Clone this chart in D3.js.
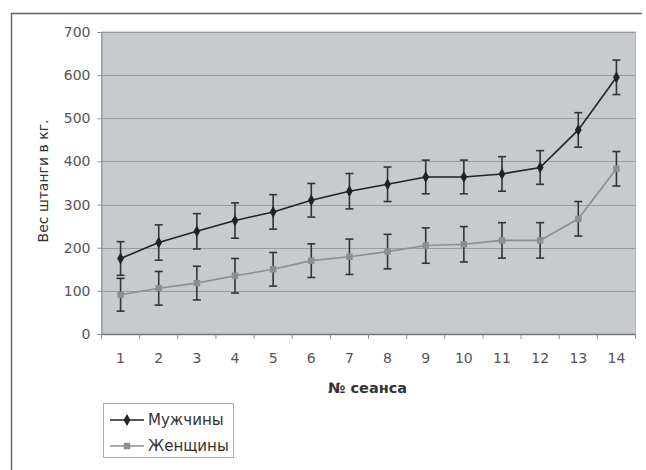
<!DOCTYPE html>
<html><head><meta charset="utf-8">
<script src="https://cdn.jsdelivr.net/npm/d3@7"></script>
<style>body{margin:0;background:#fff;}svg{display:block;font-family:"DejaVu Sans",sans-serif;}</style>
</head><body>
<svg id="c" width="646" height="470"></svg>
<script>
const sessions = ["1","2","3","4","5","6","7","8","9","10","11","12","13","14"];
const menValues = [175, 212, 238, 263, 283, 310, 331, 347, 364, 364, 371, 386, 473, 595];
const menErrors = [39, 41, 41, 41, 40, 39, 41, 40, 39, 39, 40, 39, 40, 40];
const womenValues = [91, 106, 118, 135, 150, 170, 179, 191, 205, 208, 217, 217, 267, 383];
const womenErrors = [38, 39, 39, 40, 39, 39, 41, 40, 41, 41, 41, 41, 40, 40];
const yTicks = [0, 100, 200, 300, 400, 500, 600, 700];
const seriesNames = ["Мужчины", "Женщины"];

const FONT = "DejaVu Sans, sans-serif";
const svg = d3.select("#c");
const m = {left: 101.5, right: 635.5, top: 32, bottom: 334};

// outer frame (left and top edges)
svg.append("path").attr("d", "M11.5,470 L11.5,13.5 L642,13.5")
  .attr("fill", "none").attr("stroke", "#666").attr("stroke-width", 1.5);

const x = d3.scaleBand().domain(sessions).range([m.left, m.right]);
const y = d3.scaleLinear().domain([0, 700]).range([m.bottom, m.top]);

// plot background
svg.append("rect").attr("x", m.left).attr("y", m.top)
  .attr("width", m.right - m.left).attr("height", m.bottom - m.top)
  .attr("fill", "#c8cbcd").attr("stroke", "#b4b7b9");

// gridlines
svg.append("g").selectAll("line").data(yTicks.filter(d => d > 0)).join("line")
  .attr("x1", m.left).attr("x2", m.right)
  .attr("y1", d => Math.round(y(d)) + 0.5).attr("y2", d => Math.round(y(d)) + 0.5)
  .attr("stroke", "#9a9da0").attr("stroke-width", 1);

// y axis
const yAxis = svg.append("g").attr("transform", `translate(${m.left},0)`)
  .call(d3.axisLeft(y).tickValues(yTicks).tickSize(4).tickPadding(7));
yAxis.select(".domain").attr("stroke", "#8a8d90");
yAxis.selectAll(".tick line").attr("stroke", "#8a8d90");
yAxis.selectAll("text").attr("font-size", 14).attr("fill", "#555").attr("font-family", FONT);

// x axis
const xAxis = svg.append("g").attr("transform", `translate(0,${m.bottom})`)
  .call(d3.axisBottom(x).tickSize(0).tickPadding(19));
xAxis.select(".domain").attr("stroke", "#777").attr("stroke-width", 1.5);
xAxis.selectAll("text").attr("font-size", 14).attr("fill", "#555").attr("font-family", FONT);
// boundary ticks
const bounds = sessions.map(s => x(s)).concat([m.right]);
svg.append("g").selectAll("line").data(bounds).join("line")
  .attr("x1", d => d).attr("x2", d => d)
  .attr("y1", m.bottom).attr("y2", m.bottom + 5)
  .attr("stroke", "#8a8d90");

const cx = s => x(s) + x.bandwidth() / 2;

function drawSeries(vals, errs, color, marker) {
  const g = svg.append("g");
  const eb = g.append("g").attr("stroke", "#333").attr("stroke-width", 1.6);
  sessions.forEach((s, i) => {
    const xx = cx(s), hi = y(vals[i] + errs[i]), lo = y(vals[i] - errs[i]);
    eb.append("line").attr("x1", xx).attr("x2", xx).attr("y1", hi).attr("y2", lo);
    eb.append("line").attr("x1", xx - 4).attr("x2", xx + 4).attr("y1", hi).attr("y2", hi);
    eb.append("line").attr("x1", xx - 4).attr("x2", xx + 4).attr("y1", lo).attr("y2", lo);
  });
  const line = d3.line().x((d, i) => cx(sessions[i])).y(d => y(d));
  g.append("path").datum(vals).attr("d", line).attr("fill", "none")
    .attr("stroke", color).attr("stroke-width", 1.6);
  g.selectAll("path.mk").data(vals).join("path").attr("class", "mk")
    .attr("transform", (d, i) => `translate(${cx(sessions[i])},${y(d)})`)
    .attr("d", d3.symbol().type(marker === "diamond" ? d3.symbolDiamond : d3.symbolSquare).size(marker === "diamond" ? 40 : 42)())
    .attr("fill", color);
}
drawSeries(womenValues, womenErrors, "#8c8e90", "square");
drawSeries(menValues, menErrors, "#222", "diamond");

// axis titles
svg.append("text").attr("x", 328).attr("y", 393)
  .attr("font-size", 14.5).attr("font-weight", "bold").attr("fill", "#333")
  .text("№ сеанса");
svg.append("text").attr("transform", `translate(48,${(m.top + m.bottom) / 2 - 2}) rotate(-90)`)
  .attr("text-anchor", "middle").attr("font-size", 14).attr("fill", "#333")
  .text("Вес штанги в кг.");

// legend
const lg = svg.append("g");
lg.append("rect").attr("x", 103.5).attr("y", 403.5).attr("width", 130).attr("height", 54)
  .attr("fill", "#fff").attr("stroke", "#aaa");
const legendColors = ["#222", "#8c8e90"];
const legendMarkers = [d3.symbolDiamond, d3.symbolSquare];
seriesNames.forEach((name, i) => {
  const yy = 420 + i * 26;
  lg.append("line").attr("x1", 110).attr("x2", 144).attr("y1", yy).attr("y2", yy)
    .attr("stroke", legendColors[i]).attr("stroke-width", 1.6);
  lg.append("path").attr("transform", `translate(127,${yy})`)
    .attr("d", d3.symbol().type(legendMarkers[i]).size(i === 0 ? 40 : 42)())
    .attr("fill", legendColors[i]);
  lg.append("text").attr("x", 148).attr("y", yy + 5).attr("font-size", 15)
    .attr("fill", "#333").text(name);
});
</script>
</body></html>
